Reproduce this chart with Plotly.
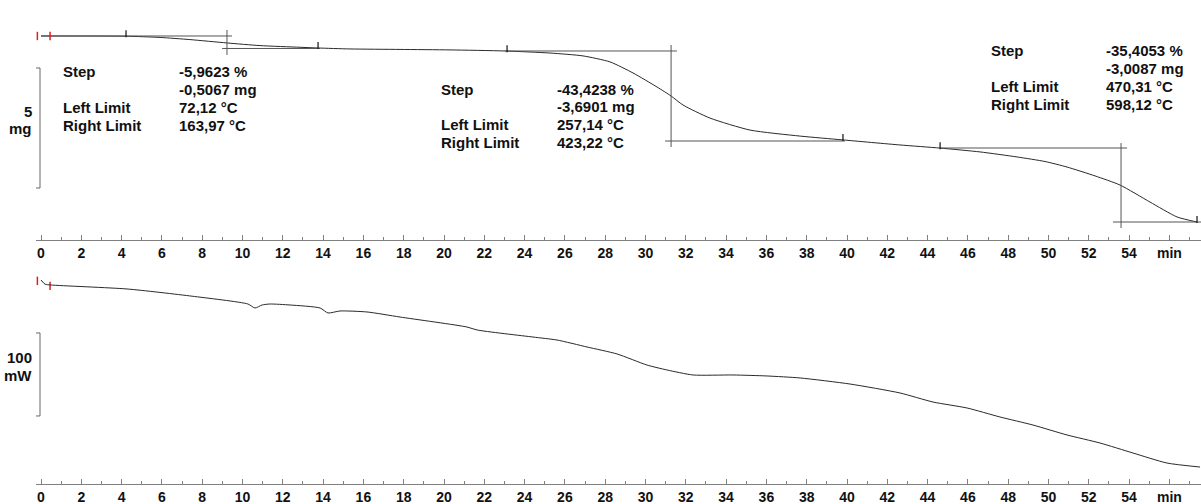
import numpy as np
import plotly.graph_objects as go
from plotly.subplots import make_subplots

W, H = 1201, 504

# TG curve: time (min) / mass (mg)
tg_time = [0.0, 4.22, 5.91, 7.39, 9.23, 10.87, 12.85, 13.75, 15.33, 17.82, 20.30, 23.03,
           25.26, 26.90, 28.24, 29.38, 30.57, 31.27, 31.86, 33.20, 35.19, 37.67, 39.80,
           42.63, 44.62, 46.60, 48.44, 49.83, 50.92, 52.31, 53.55, 55.04, 56.38, 57.37]
tg_mass = [8.50, 8.49, 8.44, 8.35, 8.21, 8.10, 8.03, 8.00, 7.96, 7.94, 7.92, 7.875,
           7.79, 7.67, 7.42, 6.96, 6.375, 6.00, 5.625, 5.08, 4.58, 4.33, 4.17,
           3.96, 3.83, 3.67, 3.46, 3.27, 3.04, 2.67, 2.29, 1.58, 0.96, 0.75]

# DSC curve: time (min) / heat flow (mW)
dsc_time = [0.0, 0.2, 0.5, 4.27, 7.5, 10.27, 10.62, 10.97, 11.36, 12.36, 13.85, 14.24, 14.84,
            16.18, 17.82, 21.14, 21.64, 24.42, 25.61, 27.10, 28.59, 30.07, 31.07, 32.36,
            34.34, 36.03, 37.67, 40.15, 42.63, 44.27, 45.96, 47.59, 49.23, 50.92, 52.56,
            54.19, 55.88, 57.52]
dsc_flow = [6.0, 1.0, 0.0, -4.8, -13.5, -22.9, -27.7, -24.1, -22.9, -24.1, -27.7, -33.7, -31.3,
            -32.5, -38.6, -50.6, -54.2, -62.7, -66.3, -74.7, -83.1, -96.4, -102.4, -108.4,
            -108.4, -109.6, -112.0, -119.3, -130.1, -141.0, -148.2, -159.0, -168.7, -180.7, -190.4,
            -202.4, -214.5, -219.3]

# evaluation marks on the TG curve
mark_time = [4.22, 13.75, 23.13, 39.80, 44.62, 57.37]
# red start brackets
start_time = [-0.18, 0.45]

# step construction lines (min, mg)
step_upper_t = [[0.0, 9.48], [23.03, 31.56], [44.62, 53.90]]
step_upper_m = [8.50, 7.875, 3.833]
step_lower_t = [[8.99, 13.85], [30.97, 39.90], [53.20, 57.60]]
step_lower_m = [7.98, 4.125, 0.75]
step_vert_t = [9.23, 31.27, 53.60]
step_vert_m = [[7.71, 8.75], [3.875, 8.125], [0.50, 4.04]]

# step result tables
step_labels = ["Step", "", "Left Limit", "Right Limit"]
step_values = [
    ["-5,9623 %", "-0,5067 mg", "72,12 °C", "163,97 °C"],
    ["-43,4238 %", "-3,6901 mg", "257,14 °C", "423,22 °C"],
    ["-35,4053 %", "-3,0087 mg", "470,31 °C", "598,12 °C"],
]

tick_vals = list(range(0, 57, 2))
tick_text = [str(v) for v in tick_vals[:-1]] + ["min"]


def px(x):
    return x / W


def py(y):
    return 1 - y / H


FONT = "Liberation Sans, Arial, sans-serif"
LINE = "#2a2a2a"
GREY = "#555555"
SCALE = 20.15  # px per minute

fig = make_subplots(rows=2, cols=1)

fig.add_trace(go.Scatter(x=tg_time, y=tg_mass, mode="lines", line=dict(color=LINE, width=1, shape="spline", smoothing=0.6)), row=1, col=1)

for t, m in zip(step_upper_t, step_upper_m):
    fig.add_trace(go.Scatter(x=t, y=[m, m], mode="lines", line=dict(color=GREY, width=1)), row=1, col=1)
for t, m in zip(step_lower_t, step_lower_m):
    fig.add_trace(go.Scatter(x=t, y=[m, m], mode="lines", line=dict(color=GREY, width=1)), row=1, col=1)
for t, m in zip(step_vert_t, step_vert_m):
    fig.add_trace(go.Scatter(x=[t, t], y=m, mode="lines", line=dict(color=GREY, width=1)), row=1, col=1)

mark_mass = np.interp(mark_time, tg_time, tg_mass)
fig.add_trace(go.Scatter(x=mark_time, y=mark_mass + 0.1, mode="markers", cliponaxis=False,
                         marker=dict(symbol="line-ns", size=5, line=dict(color="#111", width=1.2))), row=1, col=1)

fig.add_trace(go.Scatter(x=start_time, y=[tg_mass[0]] * 2, mode="markers", cliponaxis=False,
                         marker=dict(symbol="line-ns", size=6, line=dict(color="#e02020", width=1.5))), row=1, col=1)
fig.add_trace(go.Scatter(x=start_time, y=[dsc_flow[0] - 1, dsc_flow[2] - 1], mode="markers", cliponaxis=False,
                         marker=dict(symbol="line-ns", size=6, line=dict(color="#e02020", width=1.5))), row=2, col=1)

fig.add_trace(go.Scatter(x=dsc_time, y=dsc_flow, mode="lines", line=dict(color=LINE, width=1, shape="spline", smoothing=0.6)), row=2, col=1)

xr = [-5 / SCALE, (W - 41) / SCALE]
for r in (1, 2):
    fig.update_xaxes(range=xr, domain=[px(36), 1], showline=True, linecolor="#808080", linewidth=1,
                     ticks="inside", ticklen=5, tickcolor="#808080", tickmode="array",
                     tickvals=tick_vals, ticktext=tick_text, showgrid=False, zeroline=False,
                     automargin=False,
                     minor=dict(tickmode="linear", tick0=0, dtick=1, ticks="inside", ticklen=3, tickcolor="#808080"),
                     tickfont=dict(family=FONT, size=14, color="#111", weight="bold"), row=r, col=1)

fig.update_yaxes(range=[0, 8.958], domain=[py(240), py(25)], visible=False, row=1, col=1)
fig.update_yaxes(range=[-239.76, 18.07], domain=[py(484), py(270)], visible=False, row=2, col=1)

# scale bars
for yref, lo, hi in (("y", 2.167, 7.167), ("y2", -157.8, -57.8)):
    fig.add_shape(type="path", xref="paper", yref=yref,
                  path=f"M {px(36)},{hi} L {px(40)},{hi} L {px(40)},{lo} L {px(36)},{lo}",
                  line=dict(color="#666", width=1))

ann = []
for txt, y in (("5", 111), ("mg", 128), ("100", 357), ("mW", 375)):
    ann.append(dict(x=px(34), y=py(y), text=txt, xanchor="right", yanchor="middle"))

blocks = [(61, 177, 72), (439, 555, 89), (989, 1104, 51)]
for (lx, vx, y0), vals in zip(blocks, step_values):
    for i, (lab, val) in enumerate(zip(step_labels, vals)):
        y = y0 + i * 17.7
        if lab:
            ann.append(dict(x=px(lx), y=py(y), text=lab, xanchor="left", yanchor="middle"))
        ann.append(dict(x=px(vx), y=py(y), text=val, xanchor="left", yanchor="middle"))

for a in ann:
    a.update(xref="paper", yref="paper", showarrow=False,
             font=dict(family=FONT, size=15, color="#111", weight="bold"))

fig.update_layout(width=W, height=H, margin=dict(l=0, r=0, t=0, b=0), showlegend=False,
                  plot_bgcolor="white", paper_bgcolor="white", annotations=ann)

fig.write_html("out.html", config={"displayModeBar": False},
               post_script="document.body.style.margin='0';")
